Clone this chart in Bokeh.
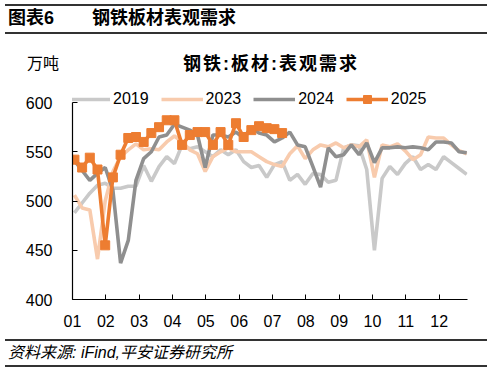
from bokeh.plotting import figure
from bokeh.models import Range1d, FixedTicker, Legend, LegendItem, Div
from bokeh.layouts import column
from bokeh.embed import file_html
from bokeh.resources import INLINE

# ---------------- data ----------------
months = ["01", "02", "03", "04", "05", "06", "07", "08", "09", "10", "11", "12"]
y_ticks = [400, 450, 500, 550, 600]
series_names = ["2019", "2023", "2024", "2025"]

s2019 = [488, 498, 508, 516, 518, 513, 513, 515, 515, 536, 520, 535, 545, 538, 557, 553,
         555, 550, 545, 552, 547, 552, 540, 534, 536, 524, 537, 540, 521, 527, 517, 528,
         527, 519, 521, 554, 557, 556, 532, 450, 523, 535, 527, 538, 545, 532, 537, 532,
         545, 539, 533, 527]
s2023 = [506, 493, 491, 441, 500, 530, 545, 552, 558, 552, 553, 552, 560, 566, 560, 552,
         548, 530, 545, 550, 554, 550, 550, 550, 545, 540, 537, 535, 548, 556, 543, 552,
         557, 555, 559, 554, 557, 555, 562, 524, 557, 555, 558, 551, 542, 547, 565, 564,
         564, 557, 551, 548]
s2024 = [541, 531, 521, 528, 534, 511, 437, 460, 521, 543, 550, 565, 567, 578, 575, 572,
         567, 534, 567, 567, 565, 570, 564, 575, 569, 567, 560, 564, 570, 557, 555, 535,
         514, 554, 545, 547, 557, 547, 559, 539, 554, 554, 555, 554, 555, 554, 552, 560,
         560, 559, 550, 549]
s2025 = [542, 534, 544, 532, 455, 524, 547, 564, 565, 560, 569, 575, 582, 582, 557, 567,
         570, 570, 557, 570, 557, 579, 565, 572, 576, 574, 573, 569]

chart_no = "图表6"
chart_name = "钢铁板材表观需求"
unit_text = "万吨"
plot_title = "钢铁:板材:表观需求"
source_text = "资料来源: iFind,平安证券研究所"

WEEKS = 52
FONT = "Liberation Sans, Noto Sans CJK SC"
CSS_FONT = "'Liberation Sans','Noto Sans CJK SC',sans-serif"


def week_x(n):
    # week index -> month units on the axis
    return [(i + 0.25) * 12 / WEEKS for i in range(n)]


# ---------------- header ----------------
def rule_html(top):
    return (f'<div style="position:absolute;left:5px;top:{top}px;width:482px;'
            f'height:2px;background:#333333;"></div>')


def text_html(left, top, text, size, weight="normal", style="normal", extra=""):
    return (f'<div style="position:absolute;left:{left}px;top:{top}px;font-size:{size}px;'
            f'font-weight:{weight};font-style:{style};line-height:20px;white-space:nowrap;{extra}">'
            f'{text}</div>')


header_html = (
    f'<div style="position:relative;width:493px;height:80px;font-family:{CSS_FONT};color:#000;">'
    + rule_html(4)
    + text_html(8, 8, chart_no, 18, "bold")
    + text_html(92, 8, chart_name, 18, "bold")
    + rule_html(32)
    + text_html(27, 54, unit_text, 16)
    + text_html(183, 54, plot_title, 18, "bold", extra="letter-spacing:2px;")
    + '</div>'
)
header = Div(text=header_html, width=493, height=80, margin=0)

# ---------------- figure ----------------
p = figure(width=493, height=256, output_backend="svg", toolbar_location=None,
           x_range=Range1d(0, 11.85), y_range=Range1d(400, 617.3),
           min_border_left=72, min_border_right=26, min_border_top=5,
           min_border_bottom=37, title=None, margin=0)
p.outline_line_color = None
p.grid.visible = False
p.background_fill_color = "white"
p.border_fill_color = "white"

colors = ["#c9c9c9", "#f8cbad", "#8f8f8f", "#ed7d31"]
data = [s2019, s2023, s2024, s2025]
items = []
for name, col, ys in zip(series_names, colors, data):
    r = p.line(week_x(len(ys)), ys, line_color=col, line_width=3.6)
    rs = [r]
    if name == "2025":
        m = p.scatter(week_x(len(ys)), ys, marker="square", size=9, color=col)
        rs.append(m)
    items.append(LegendItem(label=name, renderers=rs))

legend = Legend(items=items, orientation="horizontal", location=(-4, 190),
                glyph_width=42, glyph_height=20, label_height=20, label_standoff=3,
                spacing=12, padding=0, margin=0, border_line_color=None,
                background_fill_alpha=0, label_text_font_size="16px",
                label_text_font=FONT, label_text_color="black")
p.add_layout(legend)

p.xaxis.ticker = FixedTicker(ticks=list(range(12)))
p.xaxis.major_label_overrides = {i: m for i, m in enumerate(months)}
p.yaxis.ticker = FixedTicker(ticks=y_ticks)
p.yaxis.bounds = (400, 600)
for ax in (p.xaxis, p.yaxis):
    ax.major_tick_in = 5
    ax.major_tick_out = 0
    ax.minor_tick_in = 0
    ax.minor_tick_out = 0
    ax.axis_line_color = "black"
    ax.axis_line_width = 1.2
    ax.major_tick_line_color = "black"
    ax.major_label_text_font_size = "16px"
    ax.major_label_text_font = FONT
    ax.major_label_text_color = "black"
p.yaxis.major_label_standoff = 20
p.xaxis.major_label_standoff = 15

# ---------------- footer ----------------
footer_html = (
    f'<div style="position:relative;width:493px;height:35px;font-family:{CSS_FONT};color:#000;">'
    + rule_html(3)
    + text_html(8, 7, source_text, 16, style="italic")
    + rule_html(29)
    + '</div>'
)
footer = Div(text=footer_html, width=493, height=35, margin=0)

layout = column(header, p, footer, spacing=0, margin=0)

open("out.html", "w").write(file_html(layout, INLINE))
